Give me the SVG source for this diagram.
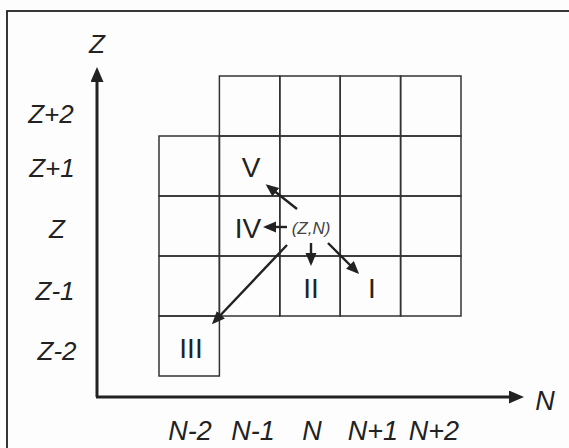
<svg xmlns="http://www.w3.org/2000/svg" width="569" height="448" viewBox="0 0 569 448">
<style>
.cell{fill:none;stroke:#333;stroke-width:1.5}
.it{font-family:"Liberation Sans",Arial,sans-serif;font-style:italic;fill:#222;text-anchor:middle}
.rn{font-family:"Liberation Sans",Arial,sans-serif;font-size:28px;fill:#222;text-anchor:middle}
.ax{stroke:#222;stroke-width:3;fill:none}
.ar{stroke:#222;stroke-width:2.4;fill:none;marker-end:url(#ah)}
</style>
<defs>
<marker id="ah" markerUnits="userSpaceOnUse" markerWidth="16" markerHeight="12" refX="10" refY="5.5" orient="auto">
<path d="M0,0 L13,5.5 L0,11 z" fill="#222"/>
</marker>
<marker id="axh" markerUnits="userSpaceOnUse" markerWidth="18" markerHeight="14" refX="2" refY="6.5" orient="auto">
<path d="M0,0 L15,6.5 L0,13 z" fill="#222"/>
</marker>
</defs>
<rect x="0" y="0" width="569" height="448" fill="#fdfdfd"/>
<rect x="7" y="11" width="580" height="460" fill="none" stroke="#222" stroke-width="1.8"/>

<g id="axes">
<line class="ax" x1="97" y1="397" x2="97" y2="80" marker-end="url(#axh)"/>
<line class="ax" x1="96" y1="397" x2="511" y2="397" marker-end="url(#axh)"/>
<text class="it" x="97" y="53" font-size="26">Z</text>
<text class="it" x="545" y="410" font-size="27">N</text>
</g>

<g id="z-labels">
<text class="it" x="51" y="123" font-size="26">Z+2</text>
<text class="it" x="52" y="177" font-size="26">Z+1</text>
<text class="it" x="57" y="238" font-size="26">Z</text>
<text class="it" x="55" y="300" font-size="26">Z-1</text>
<text class="it" x="57" y="360" font-size="26">Z-2</text>
</g>

<g id="n-labels">
<text class="it" x="190" y="440" font-size="27">N-2</text>
<text class="it" x="253" y="440" font-size="27">N-1</text>
<text class="it" x="312" y="440" font-size="27">N</text>
<text class="it" x="373" y="440" font-size="27">N+1</text>
<text class="it" x="434" y="440" font-size="27">N+2</text>
</g>

<g id="grid">
<g id="row-z2">
<rect class="cell" x="219.4" y="76" width="60.4" height="60"/>
<rect class="cell" x="279.8" y="76" width="60.4" height="60"/>
<rect class="cell" x="340.2" y="76" width="60.4" height="60"/>
<rect class="cell" x="400.6" y="76" width="60.4" height="60"/>
</g>
<g id="row-z1">
<rect class="cell" x="159" y="136" width="60.4" height="60"/>
<rect class="cell" x="219.4" y="136" width="60.4" height="60"/>
<rect class="cell" x="279.8" y="136" width="60.4" height="60"/>
<rect class="cell" x="340.2" y="136" width="60.4" height="60"/>
<rect class="cell" x="400.6" y="136" width="60.4" height="60"/>
</g>
<g id="row-z">
<rect class="cell" x="159" y="196" width="60.4" height="60"/>
<rect class="cell" x="219.4" y="196" width="60.4" height="60"/>
<rect class="cell" x="279.8" y="196" width="60.4" height="60"/>
<rect class="cell" x="340.2" y="196" width="60.4" height="60"/>
<rect class="cell" x="400.6" y="196" width="60.4" height="60"/>
</g>
<g id="row-zm1">
<rect class="cell" x="159" y="256" width="60.4" height="60"/>
<rect class="cell" x="219.4" y="256" width="60.4" height="60"/>
<rect class="cell" x="279.8" y="256" width="60.4" height="60"/>
<rect class="cell" x="340.2" y="256" width="60.4" height="60"/>
<rect class="cell" x="400.6" y="256" width="60.4" height="60"/>
</g>
<g id="row-zm2">
<rect class="cell" x="159" y="316" width="60.4" height="60"/>
</g>
</g>

<g id="node-zn"><text class="it" x="311" y="234" font-size="17" style="fill:#444">(Z,N)</text></g>
<g id="node-V"><text class="rn" x="251" y="177">V</text></g>
<g id="node-IV"><text class="rn" x="248" y="238">IV</text></g>
<g id="node-II"><text class="rn" x="311" y="298">II</text></g>
<g id="node-I"><text class="rn" x="372" y="298">I</text></g>
<g id="node-III"><text class="rn" x="191" y="358">III</text></g>

<g id="connectors">
<line class="ar" x1="297" y1="209" x2="268" y2="186"/>
<line class="ar" x1="287" y1="227" x2="266" y2="227"/>
<line class="ar" x1="311" y1="243" x2="311" y2="263"/>
<line class="ar" x1="328" y1="243" x2="357" y2="272"/>
<line class="ar" x1="287" y1="245" x2="214" y2="322"/>
</g>
</svg>
